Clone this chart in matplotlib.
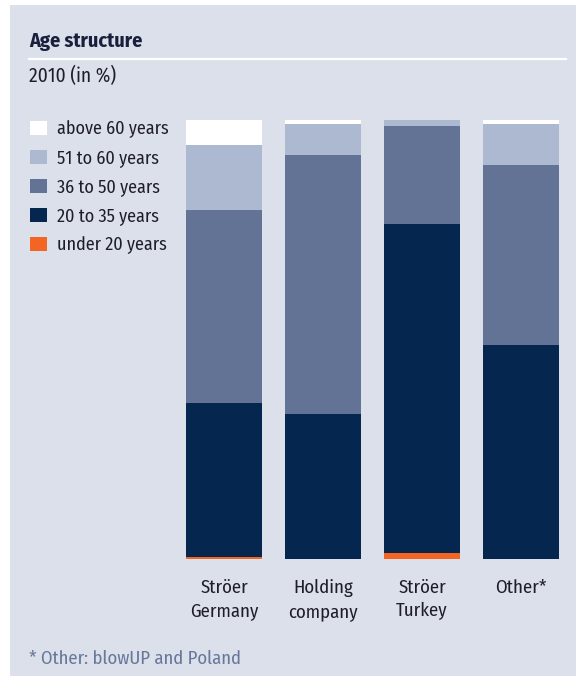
import matplotlib
matplotlib.use("Agg")
import matplotlib.pyplot as plt
from matplotlib.patches import Rectangle, Patch
from matplotlib.lines import Line2D
import numpy as np

plt.rcParams['font.family'] = ['Fira Sans Condensed', 'Archivo Narrow', 'DejaVu Sans']

categories = ["Ströer\nGermany", "Holding\ncompany", "Ströer\nTurkey", "Other*"]
series_names = ["under 20 years", "20 to 35 years", "36 to 50 years", "51 to 60 years", "above 60 years"]
under_20 = [0.5, 0.0, 1.4, 0.0]
age_20_35 = [35.1, 33.0, 74.8, 48.7]
age_36_50 = [43.8, 59.0, 22.5, 41.1]
age_51_60 = [14.9, 7.1, 1.4, 9.4]
above_60 = [5.7, 0.9, 0.0, 0.9]

colors = ["#F26522", "#04264F", "#637395", "#ADB9D0", "#FFFFFF"]
bg = "#DCE0EB"

W, H = 577, 676
fig = plt.figure(figsize=(W / 100, H / 100), dpi=100, facecolor="white")

def fx(px):
    return px / W

def fy(py):
    return 1 - py / H

# panel background and rule under the title
fig.patches.append(Rectangle((fx(10), fy(676)), fx(576) - fx(10), fy(5) - fy(676),
                             transform=fig.transFigure, facecolor=bg, edgecolor="none", zorder=-5))
fig.lines.append(Line2D([fx(29), fx(566)], [fy(58.5), fy(58.5)], transform=fig.transFigure,
                        color="white", lw=1.6))

fig.text(fx(29), fy(46.7), "Age structure", fontsize=14.5, fontweight="bold", color="#1a1f3d",
         va="baseline", ha="left")
fig.text(fx(29), fy(82.3), "2010 (in %)", fontsize=14, color="#1e1e2a", va="baseline", ha="left")
fig.text(fx(29), fy(664), "* Other: blowUP and Poland", fontsize=13.4, color="#67789a",
         va="baseline", ha="left")

left_px, right_px = 174.5, 570.5
top_px, bot_px = 120, 559
ax = fig.add_axes([fx(left_px), fy(bot_px), fx(right_px) - fx(left_px), fy(top_px) - fy(bot_px)])
ax.set_facecolor("none")
x = np.arange(len(categories))
width = 76 / 99
bottom = np.zeros(len(categories))
series = [under_20, age_20_35, age_36_50, age_51_60, above_60]
for vals, col, name in zip(series, colors, series_names):
    ax.bar(x, vals, width=width, bottom=bottom, color=col, edgecolor="none", label=name, clip_on=False)
    bottom += np.array(vals)
ax.set_xlim(-0.5, 3.5)
ax.set_ylim(0, 100)
for s in ax.spines.values():
    s.set_visible(False)
ax.set_yticks([])
ax.set_xticks(x)
ax.set_xticklabels(categories, fontsize=13.5, color="#1e1e2a", linespacing=1.43, va="top")
ax.tick_params(axis="x", length=0, pad=14)

handles = [Patch(facecolor=c, edgecolor="none") for c in colors][::-1]
labels = series_names[::-1]
fs_leg = 13
leg = fig.legend(handles, labels, loc="upper left", bbox_to_anchor=(fx(30), fy(120)),
                 frameon=False, fontsize=fs_leg, handlelength=0.94, handleheight=0.83,
                 handletextpad=0.55, labelspacing=0.61, borderpad=0, borderaxespad=0,
                 labelcolor="#1e1e2a")

fig.savefig("out.png", dpi=100, facecolor="white")
